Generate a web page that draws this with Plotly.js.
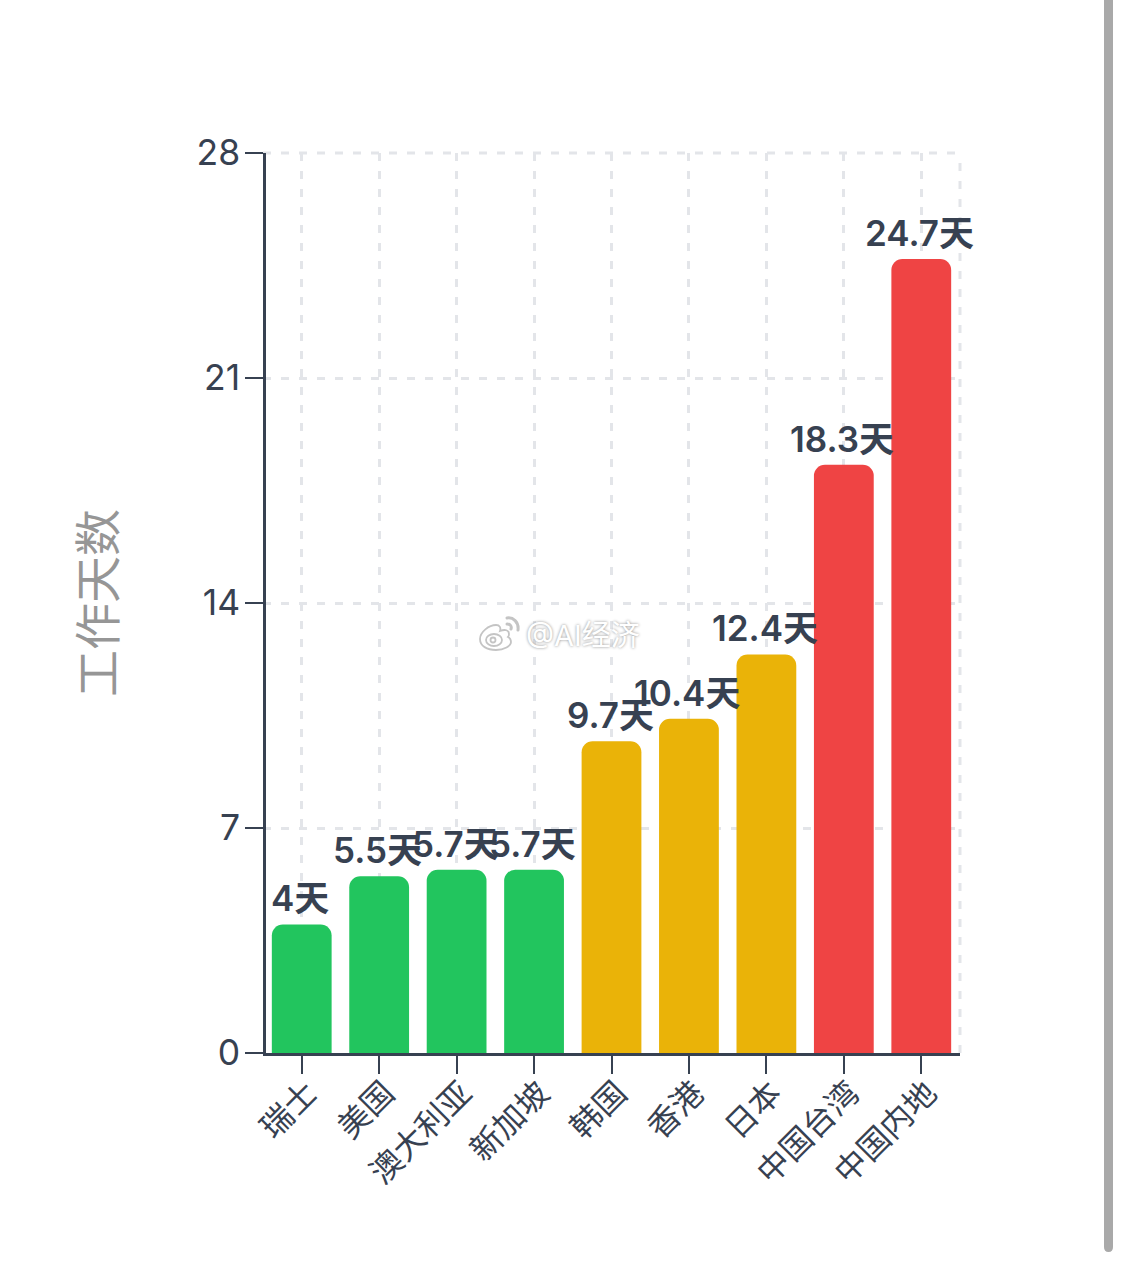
<!DOCTYPE html>
<html><head><meta charset="utf-8">
<script src="https://cdn.plot.ly/plotly-3.0.1.min.js"></script>
<style>html,body{margin:0;padding:0;background:#fff}#c{width:1122px;height:1267px}</style>
</head><body><div id="c"></div>
<script>
const categories = ['瑞士','美国','澳大利亚','新加坡','韩国','香港','日本','中国台湾','中国内地'];
const workDays = [4,5.5,5.7,5.7,9.7,10.4,12.4,18.3,24.7];
const barColors = ['#22c55e','#22c55e','#22c55e','#22c55e','#eab308','#eab308','#eab308','#ef4444','#ef4444'];
const yTicks = [0,7,14,21,28];
const unit = '天';
const yTitle = '工作天数';
const watermark = '@AI经济';
const FONT = 'Inter, "Noto Sans CJK SC", sans-serif';
const INK = '#374151', GRID = '#e3e5e9';
const L = 263, T = 153, W = 697, H = 900;
const px = x => (x - L) / W, py = y => (T + H - y) / H;
const logo = 'data:image/svg+xml;utf8,' + encodeURIComponent(
 '<svg xmlns="http://www.w3.org/2000/svg" width="46" height="38" viewBox="0 0 46 36">'+
 '<g fill="#fff" stroke="#c4c4c4" stroke-width="1.8"><path d="M3 24c0-7 9-14 16-14 4 0 5 3 4 6 5-2 9-1 9 3 0 1 0 2-1 3 2 1 3 3 3 5 0 4-7 8-15 8C10 35 3 31 3 24z"/>'+
 '<ellipse cx="17" cy="25" rx="8" ry="6"/><circle cx="16" cy="25" r="2.5"/></g>'+
 '<g fill="none" stroke="#c4c4c4" stroke-width="3" stroke-linecap="round"><path d="M30 3c6-1 12 4 11 12"/><path d="M30 9c3 0 5 2 4 5"/></g></svg>');

const valueLabels = categories.map((c,i)=>({
  xref:'x',yref:'y',x:c,y:workDays[i],xanchor:'center',yanchor:'bottom',xshift:-1.5,yshift:3,showarrow:false,
  text:workDays[i]+unit,
  font:{family:FONT,size:35,color:INK,weight:600}
}));

Plotly.newPlot('c',[{
  type:'bar',
  x:categories,
  y:workDays,
  width:0.772,
  marker:{color:barColors,cornerradius:11,line:{width:0}},
  hoverinfo:'skip'
}],{
  width:1122,height:1267,
  margin:{l:L,r:1122-L-W,t:T,b:1267-T-H,pad:0},
  paper_bgcolor:'#fff',plot_bgcolor:'#fff',
  showlegend:false,
  font:{family:FONT,color:INK},
  xaxis:{
    type:'category',
    range:[-0.5,categories.length-0.5],
    tickangle:-45,
    tickfont:{family:FONT,size:32,color:INK},
    ticks:'outside',ticklen:18,tickwidth:2,tickcolor:INK,
    ticklabelshift:6,ticklabelstandoff:-12,
    showline:true,linecolor:INK,linewidth:2.5,
    showgrid:true,gridcolor:GRID,gridwidth:3,griddash:'8px,10px',
    automargin:false
  },
  yaxis:{
    range:[0,28],
    anchor:'free',position:0.0018,
    tickmode:'array',tickvals:yTicks,ticktext:yTicks.map(String),
    tickfont:{family:FONT,size:35.5,color:INK},
    ticks:'outside',ticklen:18,tickwidth:2,tickcolor:INK,
    ticklabelstandoff:-2,
    showline:true,linecolor:INK,linewidth:3,
    showgrid:true,gridcolor:GRID,gridwidth:3,griddash:'8px,10px',
    zeroline:false,
    automargin:false,
    title:{text:yTitle,font:{family:FONT,size:47,color:'#969696'},standoff:65}
  },
  shapes:[
    {type:'line',xref:'paper',yref:'paper',x0:1,x1:1,y0:0,y1:1,layer:'below',
     line:{color:GRID,width:3,dash:'8px,10px'}},
    {type:'line',xref:'paper',yref:'paper',x0:0,x1:1,y0:1,y1:1,layer:'below',
     line:{color:GRID,width:3,dash:'8px,10px'}},
    {type:'path',xref:'paper',yref:'paper',fillcolor:'#a9a9a9',line:{width:0},
     path:`M ${px(1104)} ${py(-5)} L ${px(1113)} ${py(-5)} L ${px(1113)} ${py(1247)} Q ${px(1113)} ${py(1252)} ${px(1108.5)} ${py(1252)} Q ${px(1104)} ${py(1252)} ${px(1104)} ${py(1247)} Z`}
  ],
  images:[{source:logo,xref:'paper',yref:'paper',x:px(477),y:py(633),sizex:46/W,sizey:38/H,
    xanchor:'left',yanchor:'middle',sizing:'stretch',layer:'above'}],
  annotations:valueLabels.concat([{
    xref:'paper',yref:'paper',x:px(524),y:py(635),xanchor:'left',yanchor:'middle',showarrow:false,
    text:watermark,
    font:{family:FONT,size:29,color:'#ffffff',shadow:'0 0 3px #8a8a8a'}
  }])
},{staticPlot:true,displayModeBar:false});
</script></body></html>
